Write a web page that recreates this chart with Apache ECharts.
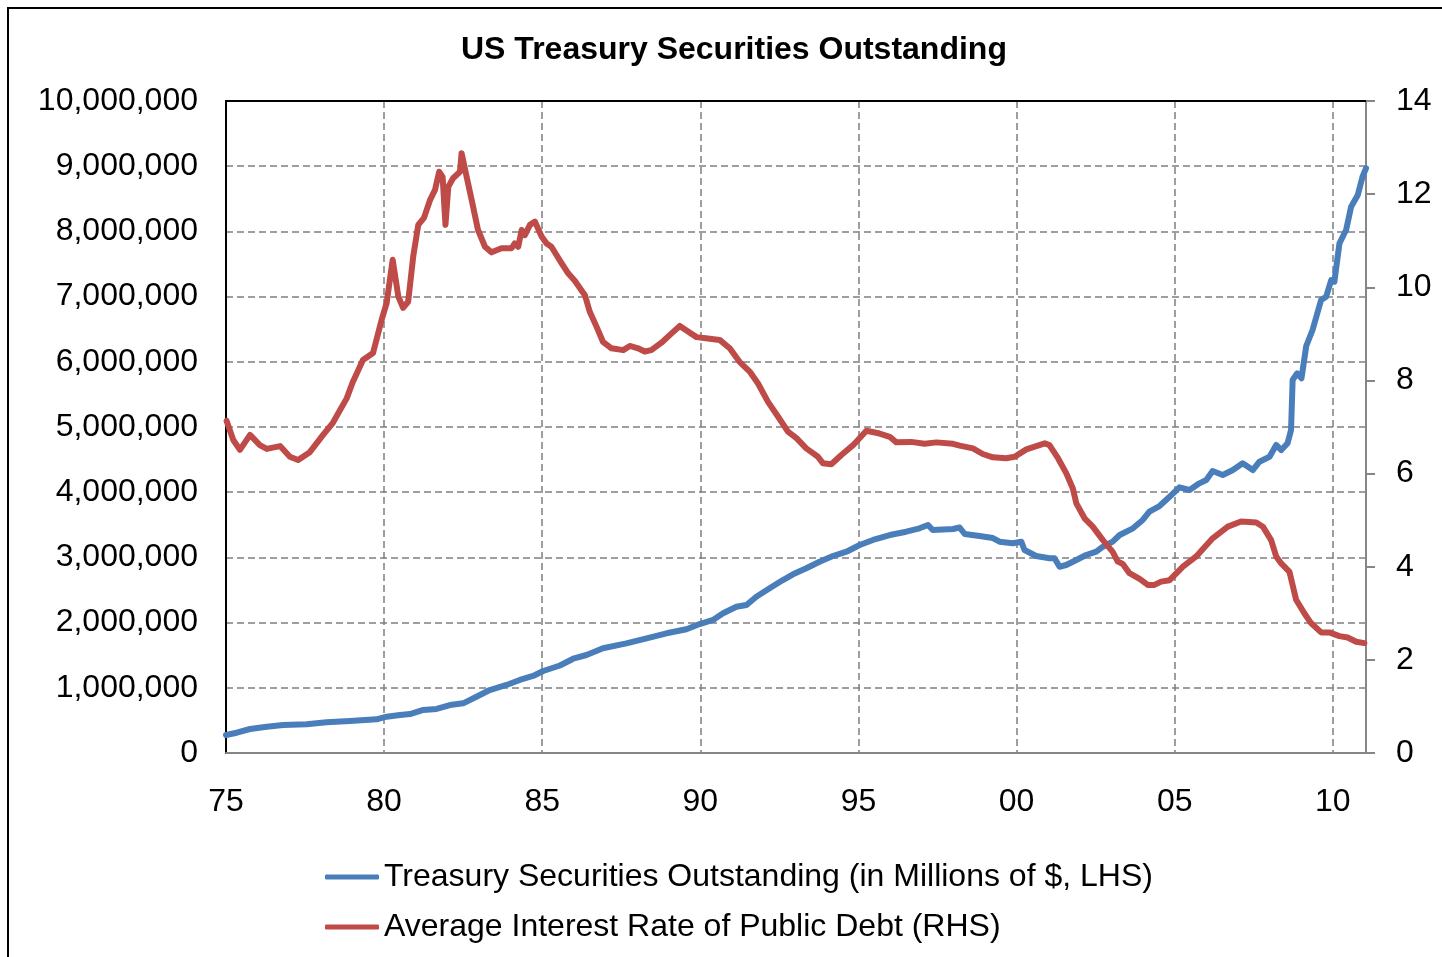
<!DOCTYPE html>
<html>
<head>
<meta charset="utf-8">
<style>
  html, body { margin: 0; padding: 0; background: #fff; }
  #chart { width: 1442px; height: 957px; }
</style>
<script src="https://cdn.jsdelivr.net/npm/echarts@6/dist/echarts.min.js"></script>
</head>
<body>
<div id="chart"></div>
<script>
// ---- Data ----
const titleText = 'US Treasury Securities Outstanding';
const seriesNames = ['Treasury Securities Outstanding (in Millions of $, LHS)', 'Average Interest Rate of Public Debt (RHS)'];

// Treasury securities outstanding, millions of $ (LHS)
const debtYears = [1975.00,1975.34,1975.76,1976.29,1976.81,1977.55,1978.18,1978.92,1979.76,1980.08,1980.50,1980.82,1981.24,1981.66,1982.08,1982.50,1982.92,1983.34,1983.87,1984.29,1984.71,1985.03,1985.56,1985.98,1986.40,1986.92,1987.66,1988.30,1988.93,1989.56,1989.98,1990.40,1990.72,1991.14,1991.46,1991.77,1992.19,1992.61,1992.93,1993.35,1993.77,1994.19,1994.62,1995.04,1995.46,1995.99,1996.51,1996.93,1997.20,1997.35,1997.99,1998.20,1998.36,1998.83,1999.25,1999.46,1999.88,2000.15,2000.25,2000.62,2001.04,2001.20,2001.36,2001.57,2001.89,2002.20,2002.52,2002.73,2003.04,2003.26,2003.68,2003.99,2004.20,2004.52,2004.84,2005.15,2005.47,2005.78,2006.00,2006.20,2006.52,2006.84,2007.15,2007.47,2007.68,2008.00,2008.21,2008.37,2008.57,2008.68,2008.73,2008.87,2009.01,2009.16,2009.36,2009.63,2009.79,2009.95,2010.05,2010.21,2010.42,2010.58,2010.79,2010.94,2011.05];
const debtValues = [276000,311000,368000,403000,429000,440000,471000,491000,517000,557000,583000,598000,660000,675000,736000,762000,863000,966000,1043000,1120000,1181000,1258000,1342000,1446000,1503000,1606000,1682000,1759000,1836000,1897000,1978000,2040000,2143000,2244000,2270000,2397000,2526000,2653000,2741000,2833000,2934000,3021000,3087000,3190000,3267000,3343000,3394000,3446000,3497000,3420000,3435000,3459000,3359000,3328000,3297000,3241000,3216000,3241000,3113000,3021000,2986000,2986000,2857000,2883000,2960000,3037000,3087000,3164000,3241000,3343000,3446000,3574000,3701000,3788000,3931000,4075000,4034000,4136000,4187000,4325000,4264000,4340000,4443000,4340000,4468000,4544000,4724000,4647000,4750000,4954000,5721000,5823000,5747000,6242000,6488000,6948000,6998000,7254000,7228000,7817000,8021000,8379000,8558000,8839000,8968000];

// Average interest rate of public debt, % (RHS)
const rateYears = [1975.02,1975.23,1975.44,1975.76,1976.07,1976.29,1976.71,1977.02,1977.28,1977.65,1978.07,1978.38,1978.82,1979.00,1979.33,1979.65,1979.92,1980.08,1980.27,1980.45,1980.60,1980.76,1980.92,1981.08,1981.26,1981.45,1981.61,1981.74,1981.85,1981.94,1982.03,1982.18,1982.40,1982.45,1982.61,1982.77,1982.97,1983.19,1983.40,1983.71,1984.03,1984.13,1984.24,1984.35,1984.45,1984.61,1984.77,1984.98,1985.14,1985.29,1985.61,1985.82,1986.03,1986.35,1986.50,1986.72,1986.92,1987.19,1987.56,1987.77,1988.03,1988.24,1988.45,1988.77,1989.09,1989.35,1989.61,1989.88,1990.24,1990.61,1990.93,1991.24,1991.56,1991.82,1992.14,1992.46,1992.77,1993.04,1993.35,1993.72,1993.88,1994.14,1994.46,1994.83,1995.25,1995.67,1995.99,1996.20,1996.67,1997.09,1997.46,1997.99,1998.20,1998.62,1998.93,1999.25,1999.67,1999.94,2000.31,2000.89,2001.04,2001.31,2001.57,2001.78,2001.89,2002.15,2002.41,2002.73,2003.04,2003.20,2003.36,2003.57,2003.89,2004.15,2004.36,2004.57,2004.84,2005.26,2005.68,2006.20,2006.68,2007.10,2007.58,2007.79,2008.05,2008.21,2008.37,2008.63,2008.84,2009.10,2009.31,2009.63,2009.89,2010.21,2010.47,2010.74,2011.00];
const rateValues = [7.13,6.72,6.51,6.83,6.61,6.53,6.59,6.36,6.29,6.46,6.83,7.09,7.62,7.95,8.44,8.59,9.30,9.66,10.59,9.80,9.56,9.69,10.66,11.34,11.49,11.87,12.09,12.48,12.37,11.34,12.16,12.34,12.48,12.88,12.37,11.87,11.23,10.87,10.75,10.84,10.84,10.94,10.87,11.23,11.12,11.34,11.41,11.09,10.94,10.87,10.52,10.30,10.14,9.83,9.48,9.15,8.83,8.69,8.65,8.74,8.69,8.62,8.65,8.81,9.01,9.17,9.05,8.93,8.90,8.87,8.69,8.40,8.19,7.94,7.54,7.22,6.90,6.76,6.54,6.36,6.22,6.20,6.40,6.61,6.92,6.86,6.79,6.67,6.68,6.64,6.67,6.64,6.60,6.54,6.42,6.35,6.33,6.36,6.52,6.65,6.61,6.33,6.01,5.68,5.36,5.04,4.86,4.57,4.32,4.11,4.06,3.86,3.74,3.61,3.61,3.68,3.71,4.00,4.22,4.61,4.86,4.97,4.95,4.86,4.57,4.22,4.07,3.89,3.29,3.00,2.79,2.59,2.59,2.51,2.48,2.39,2.36];

// Axis ranges / ticks
const xMin = 1975, xMax = 2011.05, xStep = 5;
const leftMax = 10000000, leftStep = 1000000;
const rightMax = 14, rightStep = 2;

// ---- Chart ----
const FONT = '"Liberation Sans", Arial, sans-serif';
const blue = '#4A7EBB';
const red = '#BE4B48';
const gridColor = '#7F7F7F';
const FS = 32;

const chart = echarts.init(document.getElementById('chart'), null, { renderer: 'canvas' });

function fmtThousands(v) {
  return String(Math.round(v)).replace(/\B(?=(\d{3})+(?!\d))/g, ',');
}

chart.setOption({
  animation: false,
  backgroundColor: '#fff',
  textStyle: { fontFamily: FONT },
  title: {
    text: titleText,
    left: 461,
    top: 34,
    padding: 0,
    textStyle: { fontFamily: FONT, fontSize: FS, fontWeight: 'bold', color: '#000' }
  },
  graphic: [{
    type: 'rect',
    shape: { x: 8, y: 8, width: 1600, height: 1200 },
    style: { fill: 'none', stroke: '#000', lineWidth: 2 },
    silent: true,
    z: -1
  }, {
    type: 'line',
    shape: { x1: 226, y1: 101, x2: 1366, y2: 101 },
    style: { stroke: '#000', lineWidth: 2 },
    silent: true,
    z: 2
  }],
  legend: {
    orient: 'vertical',
    left: 325,
    top: 859,
    padding: 0,
    itemWidth: 54,
    itemHeight: 5,
    itemGap: 14,
    icon: 'roundRect',
    textStyle: { fontFamily: FONT, fontSize: FS, color: '#000', lineHeight: 36 },
    data: seriesNames
  },
  grid: {
    left: 226, top: 101, width: 1140, height: 652,
    show: true, borderColor: '#000', borderWidth: 2, backgroundColor: 'transparent'
  },
  xAxis: {
    type: 'value',
    min: xMin, max: xMax, interval: xStep,
    axisLine: { show: true, onZero: false, lineStyle: { color: '#868686', width: 2 } },
    axisTick: { show: false },
    axisLabel: {
      margin: 33,
      fontFamily: FONT, fontSize: FS, color: '#000',
      showMaxLabel: false,
      formatter: function (v) {
        if (Math.abs(v % xStep) > 1e-6) return '';
        const yy = Math.round(v) % 100;
        return (yy < 10 ? '0' : '') + yy;
      }
    },
    splitLine: { show: true, showMinLine: false, showMaxLine: false, lineStyle: { color: gridColor, width: 1.5, type: [7, 4] } }
  },
  yAxis: [{
    type: 'value',
    position: 'left',
    min: 0, max: leftMax, interval: leftStep,
    axisLine: { show: true, lineStyle: { color: '#000', width: 2 } },
    axisTick: { show: false },
    axisLabel: {
      margin: 28, fontFamily: FONT, fontSize: FS, color: '#000',
      formatter: fmtThousands
    },
    splitLine: { show: true, showMinLine: false, showMaxLine: false, lineStyle: { color: gridColor, width: 1.5, type: [7, 4] } }
  }, {
    type: 'value',
    position: 'right',
    min: 0, max: rightMax, interval: rightStep,
    axisLine: { show: true, lineStyle: { color: '#868686', width: 2 } },
    axisTick: { show: true, inside: false, length: 9, lineStyle: { color: '#868686', width: 2 } },
    axisLabel: { margin: 30, fontFamily: FONT, fontSize: FS, color: '#000' },
    splitLine: { show: false }
  }],
  series: [{
    name: seriesNames[0],
    type: 'line',
    yAxisIndex: 0,
    data: debtYears.map((y, i) => [y, debtValues[i]]),
    showSymbol: false,
    symbol: 'none',
    lineStyle: { color: blue, width: 6, join: 'round', cap: 'round' },
    itemStyle: { color: blue },
    z: 3
  }, {
    name: seriesNames[1],
    type: 'line',
    yAxisIndex: 1,
    data: rateYears.map((y, i) => [y, rateValues[i]]),
    showSymbol: false,
    symbol: 'none',
    lineStyle: { color: red, width: 6, join: 'round', cap: 'round' },
    itemStyle: { color: red },
    z: 4
  }]
});
</script>
</body>
</html>
